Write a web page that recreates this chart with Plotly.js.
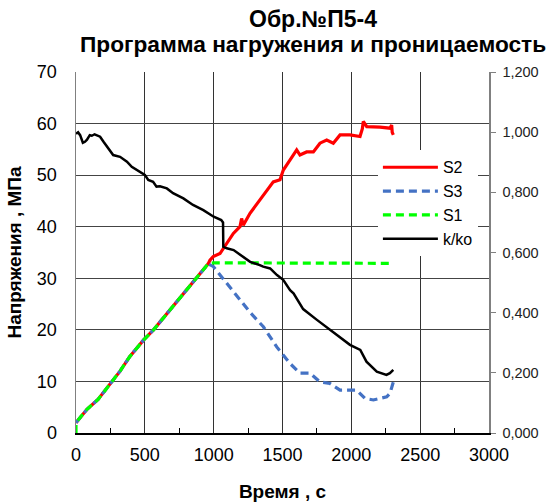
<!DOCTYPE html>
<html>
<head>
<meta charset="utf-8">
<script src="https://cdn.plot.ly/plotly-3.0.1.min.js"></script>
<style>html,body{margin:0;padding:0;background:#fff;}#chart{width:549px;height:504px;}</style>
</head>
<body>
<div id="chart"></div>
<script>
// Title lines
const titleLines = ['Обр.№П5-4', 'Программа нагружения и проницаемость'];
// S2 (red)
const tS2 = [0, 30, 80, 160, 250, 320, 390, 490, 563, 650, 740, 830, 900, 960, 973, 997, 1046, 1094, 1143, 1191, 1203, 1215, 1264, 1336, 1409, 1433, 1482, 1506, 1554, 1603, 1627, 1675, 1724, 1772, 1821, 1869, 1918, 1990, 2063, 2080, 2087, 2112, 2208, 2281, 2293, 2297, 2305];
const vS2 = [2.0, 3.0, 4.6, 6.5, 9.6, 12.0, 14.8, 18.0, 20.0, 22.8, 25.7, 28.6, 30.9, 32.8, 33.5, 34.2, 34.8, 36.8, 38.7, 40.0, 41.6, 40.3, 42.6, 45.2, 47.8, 48.7, 49.1, 51.0, 52.9, 54.9, 53.9, 54.5, 54.5, 56.2, 56.8, 56.2, 57.8, 57.8, 57.5, 59.0, 60.4, 59.4, 59.3, 59.1, 59.7, 58.3, 57.8];
// S3 (blue)
const tS3 = [0, 30, 80, 160, 250, 320, 390, 490, 563, 650, 740, 830, 900, 960, 997, 1094, 1191, 1264, 1361, 1458, 1554, 1627, 1700, 1772, 1845, 1918, 2039, 2099, 2160, 2257, 2281, 2305];
const vS3 = [2.0, 3.0, 4.6, 6.5, 9.6, 12.0, 14.8, 18.0, 20.0, 22.8, 25.7, 28.6, 30.9, 32.8, 32.3, 29.0, 25.8, 23.4, 20.6, 16.7, 13.5, 11.6, 11.6, 9.9, 9.6, 8.3, 8.3, 6.7, 6.4, 7.0, 7.7, 9.9];
// S1 (green)
const tS1 = [0, 0, 30, 80, 160, 250, 320, 390, 490, 563, 650, 740, 830, 900, 960, 1000, 1100, 1200, 1300, 1400, 1500, 1600, 1700, 1800, 1900, 2000, 2100, 2200, 2305];
const vS1 = [0, 2.0, 3.0, 4.6, 6.5, 9.6, 12.0, 14.8, 18.0, 20.0, 22.8, 25.7, 28.6, 30.9, 32.8, 33.0, 33.0, 32.9, 33.0, 32.9, 33.0, 32.9, 33.0, 32.9, 33.0, 32.9, 33.0, 32.9, 32.9];
// k/ko (black, right axis)
const tK = [0, 15, 30, 50, 65, 80, 100, 115, 135, 150, 175, 200, 235, 270, 320, 370, 405, 465, 500, 525, 560, 585, 610, 660, 705, 780, 850, 925, 1000, 1055, 1068, 1070, 1095, 1145, 1200, 1265, 1335, 1360, 1410, 1460, 1505, 1555, 1580, 1650, 1750, 1845, 1920, 1990, 2065, 2110, 2185, 2255, 2280, 2305];
const vK = [0.995, 1.000, 0.990, 0.965, 0.968, 0.975, 0.990, 0.988, 0.993, 0.990, 0.985, 0.968, 0.946, 0.924, 0.918, 0.902, 0.885, 0.869, 0.858, 0.841, 0.835, 0.819, 0.820, 0.813, 0.797, 0.780, 0.758, 0.741, 0.719, 0.708, 0.700, 0.619, 0.614, 0.608, 0.590, 0.569, 0.558, 0.553, 0.547, 0.525, 0.509, 0.475, 0.464, 0.412, 0.376, 0.343, 0.320, 0.293, 0.276, 0.237, 0.204, 0.193, 0.199, 0.210];

const F = '"Liberation Sans", Arial, sans-serif';
const traces = [
  {x: tS2, y: vS2, name: 'S2', mode: 'lines', line: {color: '#FF0000', width: 3.2}},
  {x: tS3, y: vS3, name: 'S3', mode: 'lines', line: {color: '#4472C4', width: 3.2, dash: '8px,5px'}},
  {x: tS1, y: vS1, name: 'S1', mode: 'lines', line: {color: '#00FF00', width: 3.2, dash: '8px,5px'}},
  {x: tK, y: vK, name: 'k/ko', mode: 'lines', yaxis: 'y2', line: {color: '#000000', width: 2.5}}
];
const layout = {
  width: 549, height: 504,
  margin: {l: 76, r: 60, t: 72, b: 71, pad: 0},
  paper_bgcolor: '#fff', plot_bgcolor: '#fff',
  separators: ', ',
  font: {family: F, size: 18, color: '#000'},
  annotations: [
    {text: '<b>' + titleLines[0] + '</b>', xref: 'paper', yref: 'paper', x: 0.575, y: 1.146, xanchor: 'center', yanchor: 'middle',
     showarrow: false, font: {family: F, size: 23, color: '#000'}},
    {text: '<b>' + titleLines[1] + '</b>', xref: 'paper', yref: 'paper', x: 0.573, y: 1.077, xanchor: 'center', yanchor: 'middle',
     showarrow: false, font: {family: F, size: 22.7, color: '#000'}}
  ],
  showlegend: true,
  legend: {x: 0.731, y: 0.783, xanchor: 'left', yanchor: 'top', bgcolor: '#fff', borderwidth: 0,
           font: {family: F, size: 16, color: '#000'}, itemwidth: 55, tracegroupgap: 0},
  xaxis: {range: [0, 3000], dtick: 500, tick0: 0, showgrid: true, gridcolor: '#333', gridwidth: 1,
          zeroline: false, showline: true, linecolor: '#000', linewidth: 1.5, ticks: '',
          minor: {dtick: 250, ticks: 'inside', ticklen: 5, tickcolor: '#000', showgrid: false},
          tickfont: {family: F, size: 18, color: '#000'}, ticklabelstandoff: 5,
          title: {text: '<b>Время , с</b>', font: {family: F, size: 19, color: '#000'}, standoff: 20}},
  yaxis: {range: [0, 70], dtick: 10, tick0: 0, showgrid: true, gridcolor: '#444', gridwidth: 1,
          zeroline: false, showline: true, linecolor: '#808080', linewidth: 1.5, ticks: '',
          tickfont: {family: F, size: 18, color: '#000'}, ticklabelstandoff: 14,
          title: {text: '<b>Напряжения , МПа</b>', font: {family: F, size: 19, color: '#000'}, standoff: 10}},
  yaxis2: {range: [0, 1.2], dtick: 0.2, tick0: 0, overlaying: 'y', side: 'right', showgrid: false,
           zeroline: false, showline: true, linecolor: '#808080', linewidth: 1.5, ticks: 'outside', ticklen: 5,
           tickcolor: '#808080', tickformat: '.3f', tickfont: {family: F, size: 14.5, color: '#222'}, ticklabelstandoff: 4}
};
Plotly.newPlot('chart', traces, layout, {displayModeBar: false, staticPlot: true});
</script>
</body>
</html>
